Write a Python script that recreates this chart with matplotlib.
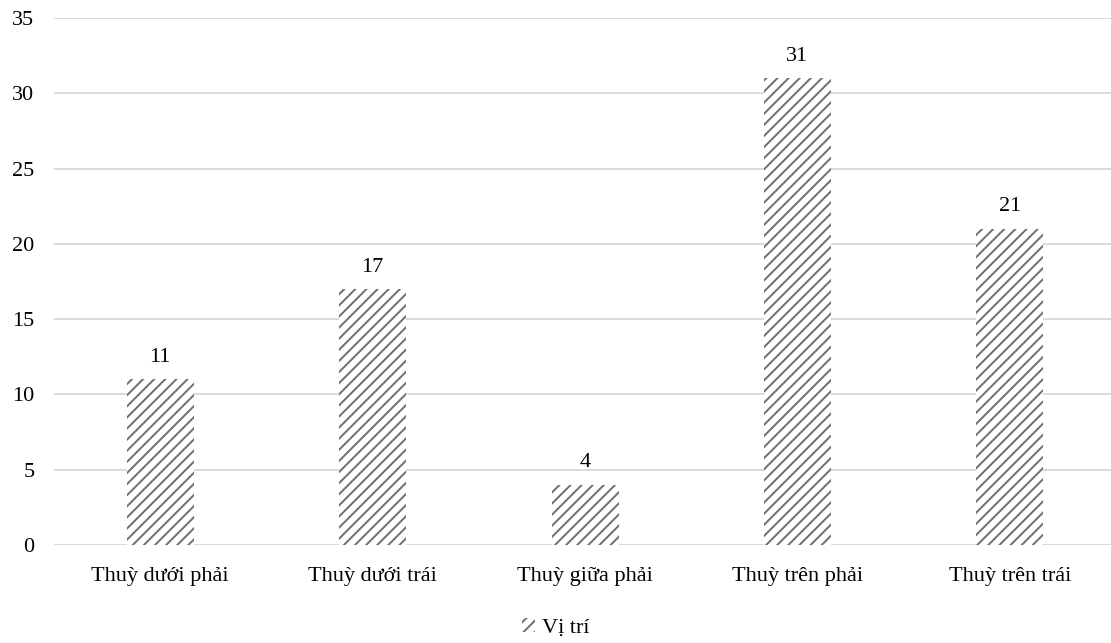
import matplotlib.pyplot as plt
import matplotlib.patches as mpatches

plt.rcParams['font.family'] = ['Liberation Serif', 'DejaVu Serif']
plt.rcParams['hatch.linewidth'] = 1.4

categories = ['Thuỳ dưới phải', 'Thuỳ dưới trái', 'Thuỳ giữa phải',
              'Thuỳ trên phải', 'Thuỳ trên trái']
counts = [11, 17, 4, 31, 21]
series_name = 'Vị trí'

hatch_col = '#6e6e6e'
fs = 16

fig = plt.figure(figsize=(11.11, 6.43), dpi=100)
ax = fig.add_axes([0.0486, 0.1524, 0.956, 0.8196])

x = range(len(categories))
ax.bar(x, counts, width=0.315, color='white', edgecolor=hatch_col,
       linewidth=0, hatch='///', zorder=2)

for xi, v in zip(x, counts):
    ax.annotate(str(v), (xi, v), xytext=(0, 9), textcoords='offset points',
                ha='center', va='bottom', fontsize=fs)

ax.set_xlim(-0.5, len(categories) - 0.5)
ax.set_ylim(0, 35)
ax.set_yticks(range(0, 36, 5))
ax.set_xticks(list(x))
ax.set_xticklabels(categories)
ax.yaxis.grid(True, color='#d9d9d9', linewidth=1.4, zorder=0)
ax.set_axisbelow(True)
for s in ax.spines.values():
    s.set_visible(False)
ax.tick_params(length=0, labelsize=fs)
ax.tick_params(axis='y', pad=14)
ax.tick_params(axis='x', pad=16)

handle = mpatches.Patch(facecolor='white', edgecolor=hatch_col, linewidth=0,
                        hatch='///', label=series_name)
fig.legend(handles=[handle], loc='center', bbox_to_anchor=(0.5, 0.023),
           frameon=False, fontsize=fs, handlelength=0.6, handleheight=0.6,
           handletextpad=0.3)

fig.savefig('out.png', dpi=100)
